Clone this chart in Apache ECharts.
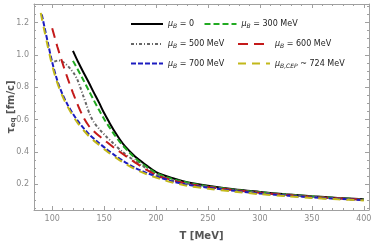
<!DOCTYPE html>
<html><head><meta charset="utf-8">
<script src="https://cdn.jsdelivr.net/npm/echarts@6/dist/echarts.min.js"></script>
<style>html,body{margin:0;padding:0;background:#fff}#c{width:374px;height:245px}</style>
</head><body><div id="c"></div><script>
// Tick labels
const xMajorTicks = [100, 150, 200, 250, 300, 350, 400];
const yMajorTicks = [0.2, 0.4, 0.6, 0.8, 1.0, 1.2];
const xMinorTicks = [90,110,120,130,140,160,170,180,190,210,220,230,240,260,270,280,290,310,320,330,340,360,370,380,390];
const yMinorTicks = [0.05,0.1,0.15,0.25,0.3,0.35,0.45,0.5,0.55,0.65,0.7,0.75,0.85,0.9,0.95,1.05,1.1,1.15,1.25,1.3];

// Series: temperature T [MeV] and tau_eq [fm/c]
const tMu0   = [120,125,130,135,140,145,150,155,160,165,170,180,185,190,200,217,230,250,275,300,325,350,375,400];
const tauMu0 = [1.025,0.956,0.893,0.832,0.768,0.706,0.64,0.582,0.527,0.478,0.435,0.37,0.345,0.32,0.275,0.235,0.212,0.19,0.168,0.152,0.137,0.125,0.115,0.106];

const tMu300   = [120,125,130,135,140,145,150,155,160,165,170,178,185,192,200,210,220,235,250,275,300,325,350,375,400];
const tauMu300 = [0.963,0.905,0.845,0.782,0.72,0.66,0.603,0.553,0.505,0.462,0.425,0.372,0.333,0.302,0.268,0.243,0.225,0.203,0.187,0.166,0.15,0.136,0.124,0.114,0.105];

const tMu500   = [102,106,110,114,118,121,124,127,130,133,136,140,146,152,158,168,178,185,200,217,235,250,275,300,325,350,375,400];
const tauMu500 = [0.958,0.966,0.957,0.938,0.91,0.885,0.85,0.8,0.745,0.69,0.635,0.585,0.536,0.495,0.458,0.398,0.35,0.322,0.26,0.223,0.198,0.184,0.164,0.148,0.135,0.122,0.113,0.104];

const tMu600   = [100,105,110,115,120,125,130,135,140,145,150,160,170,180,190,200,210,220,235,250,275,300,325,350,375,400];
const tauMu600 = [1.165,1.05,0.948,0.853,0.765,0.685,0.615,0.563,0.528,0.499,0.474,0.423,0.378,0.333,0.292,0.256,0.234,0.217,0.197,0.183,0.163,0.146,0.133,0.121,0.112,0.104];

const tMu700   = [90,93,96,100,105,110,115,120,125,130,136,145,152,160,168,180,192,205,217,230,250,275,300,325,350,375,400];
const tauMu700 = [1.25,1.16,1.07,0.955,0.84,0.755,0.69,0.635,0.588,0.548,0.505,0.455,0.418,0.38,0.345,0.3,0.267,0.238,0.215,0.197,0.178,0.159,0.142,0.13,0.118,0.109,0.101];

const tCEP   = [89,92,95,99,104,109,114,120,125,130,136,145,152,160,168,180,192,205,217,230,250,275,300,325,350,375,400];
const tauCEP = [1.26,1.165,1.075,0.96,0.845,0.758,0.69,0.622,0.575,0.535,0.493,0.443,0.407,0.37,0.336,0.292,0.259,0.23,0.208,0.19,0.172,0.154,0.138,0.126,0.115,0.106,0.099];

const seriesNames = ['mu0','mu300','mu500','mu600','mu700','cep'];
const legendLabels = {
  mu0: '{i|μ}{s|B}{n| = 0}',
  mu300: '{i|μ}{s|B}{n| = 300 MeV}',
  mu500: '{i|μ}{s|B}{n| = 500 MeV}',
  mu600: '{i|μ}{s|B}{n| = 600 MeV}',
  mu700: '{i|μ}{s|B}{n| = 700 MeV}',
  cep: '{i|μ}{s|B,CEP}{n| ~ 724 MeV}'
};

const zip = (a, b) => a.map((v, i) => [v, b[i]]);
const styles = [
  {color: '#000000', type: 'solid', width: 2},
  {color: '#22aa22', type: [6, 3], width: 2},
  {color: '#666666', type: [3, 2, 1, 2], width: 2},
  {color: '#c41a1a', type: [10, 6], width: 2},
  {color: '#1c1cc0', type: [5, 2], width: 2},
  {color: '#c2b81a', type: [8, 6], width: 2}
];
const dataSets = [zip(tMu0,tauMu0), zip(tMu300,tauMu300), zip(tMu500,tauMu500), zip(tMu600,tauMu600), zip(tMu700,tauMu700), zip(tCEP,tauCEP)];

const frameColor = '#a0a0a0';
const xr = {min: 82.5, max: 405};
const yr = {min: 0.04, max: 1.315};
function ax(base, ticks, len, showLine, labels, fmt) {
  return {
    type: 'value', min: base.min, max: base.max,
    splitLine: {show: false},
    axisLine: {show: showLine, lineStyle: {color: frameColor, width: 1}},
    axisTick: {show: true, inside: true, length: len, customValues: ticks, lineStyle: {color: frameColor}},
    axisLabel: labels ? {show: true, customValues: ticks, color: '#8a8a8a', fontSize: 8, margin: 5,
      fontFamily: 'DejaVu Sans', formatter: fmt} : {show: false}
  };
}

const richLegend = {
  i: {fontStyle: 'italic', fontSize: 8, color: '#222', fontFamily: 'DejaVu Sans'},
  s: {fontStyle: 'italic', fontSize: 6, color: '#222', padding: [5, 0, 0, 0], fontFamily: 'DejaVu Sans'},
  n: {fontSize: 8, color: '#222', fontFamily: 'DejaVu Sans'}
};
function legend(name, left, top) {
  return {
    orient: 'horizontal', left: left, top: top, itemWidth: 32, itemHeight: 10, itemGap: 5, padding: 0,
    data: [name], formatter: n => legendLabels[n],
    textStyle: {rich: richLegend, fontSize: 8, lineHeight: 10},
    itemStyle: {opacity: 0},
    selectedMode: false
  };
}

const chart = echarts.init(document.getElementById('c'), null, {renderer: 'canvas'});
chart.setOption({
  animation: false,
  backgroundColor: '#fff',
  grid: {left: 34, right: 5, top: 4, bottom: 35, containLabel: false, outerBoundsMode: 'none'},
  legend: [
    legend('mu0', 130, 19), legend('mu300', 203.5, 19),
    legend('mu500', 130, 39), legend('mu600', 237, 39),
    legend('mu700', 130, 58.5), legend('cep', 237, 58.5)
  ],
  xAxis: [
    Object.assign(ax(xr, xMajorTicks, 4, true, true, v => String(v)), {position: 'bottom',
      name: 'T [MeV]', nameLocation: 'middle', nameGap: 21, nameMoveOverlap: false,
      nameTextStyle: {fontWeight: 'bold', fontSize: 10, color: '#555', fontFamily: 'DejaVu Sans'}}),
    Object.assign(ax(xr, xMinorTicks, 2, false, false), {position: 'bottom'}),
    Object.assign(ax(xr, xMajorTicks, 4, true, false), {position: 'top'}),
    Object.assign(ax(xr, xMinorTicks, 2, false, false), {position: 'top'})
  ],
  yAxis: [
    Object.assign(ax(yr, yMajorTicks, 4, true, true, v => v.toFixed(1)), {position: 'left',
      name: '{t|τ}{e|eq}{t| [fm/c]}', nameLocation: 'middle', nameGap: 17, nameRotate: 90, nameMoveOverlap: false,
      nameTextStyle: {rich: {
        t: {fontWeight: 'bold', fontSize: 10, color: '#555', fontFamily: 'DejaVu Sans'},
        e: {fontWeight: 'bold', fontSize: 7, color: '#555', padding: [5,0,0,0], fontFamily: 'DejaVu Sans'}
      }}}),
    Object.assign(ax(yr, yMinorTicks, 2, false, false), {position: 'left'}),
    Object.assign(ax(yr, yMajorTicks, 4, true, false), {position: 'right'}),
    Object.assign(ax(yr, yMinorTicks, 2, false, false), {position: 'right'})
  ],
  series: seriesNames.map((n, k) => ({
    name: n, type: 'line', xAxisIndex: 0, yAxisIndex: 0,
    data: dataSets[k], showSymbol: false, symbol: 'none',
    smooth: 0.3,
    lineStyle: styles[k], itemStyle: {color: styles[k].color}
  }))
});
</script></body></html>
